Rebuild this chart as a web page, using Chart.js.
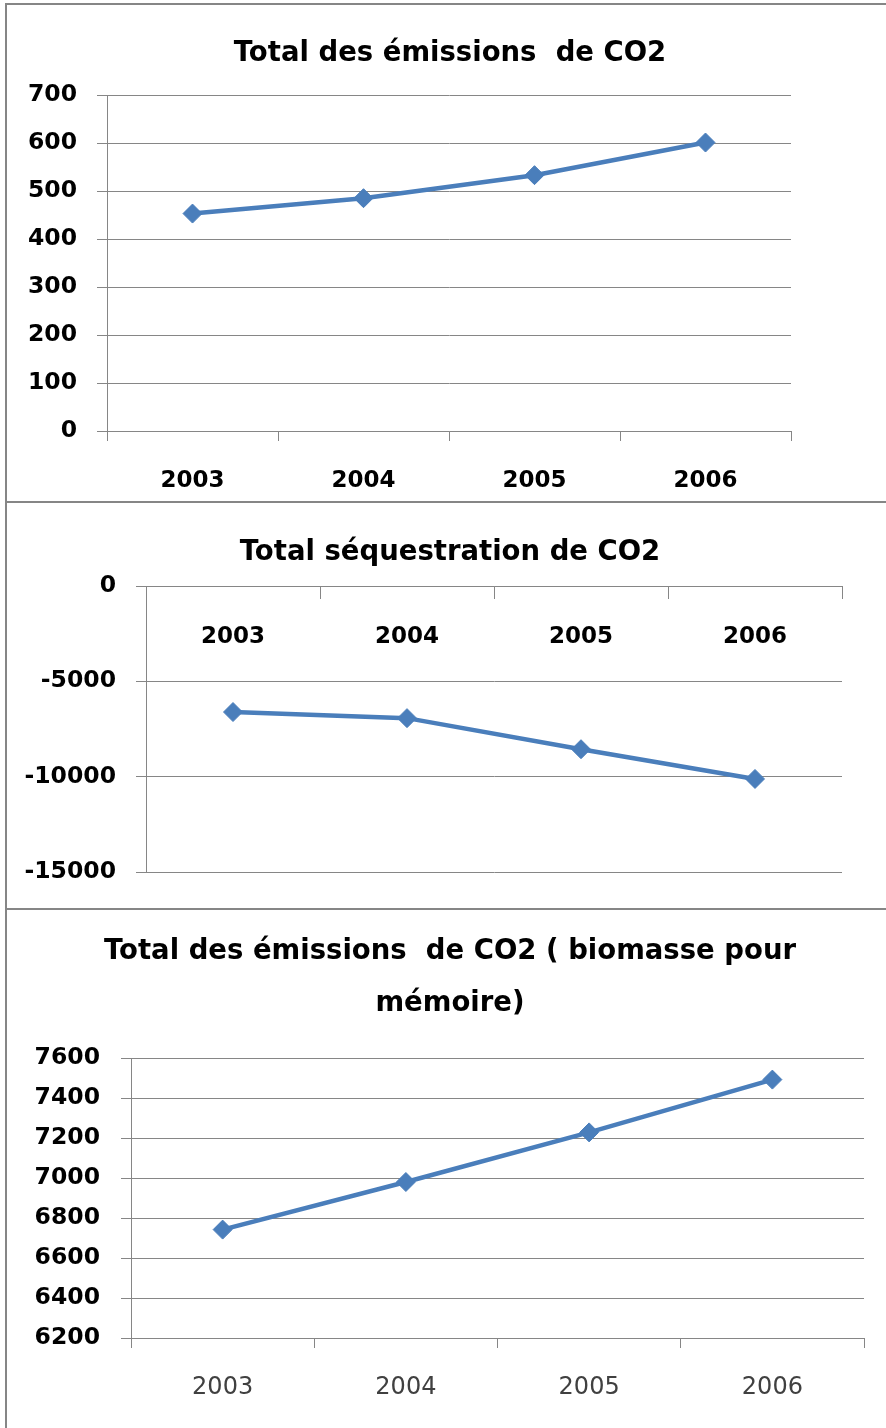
<!DOCTYPE html>
<html>
<head>
<meta charset="utf-8">
<script src="https://cdn.jsdelivr.net/npm/chart.js@4.4.1/dist/chart.umd.min.js"></script>
<style>
  html, body { margin: 0; padding: 0; background: #ffffff; }
  body { width: 886px; height: 1428px; position: relative; overflow: hidden; }
  canvas { position: absolute; left: 0; }
  .rule { position: absolute; background: #868686; z-index: 5; }
</style>
</head>
<body>
<canvas id="c1" width="886" height="502" style="top:0px"></canvas>
<canvas id="c2" width="886" height="407" style="top:502px"></canvas>
<canvas id="c3" width="886" height="519" style="top:909px"></canvas>
<div class="rule" style="left:5px; top:3px; width:881px; height:2px;"></div>
<div class="rule" style="left:5px; top:3px; width:2px; height:1425px;"></div>
<div class="rule" style="left:5px; top:501px; width:881px; height:2px;"></div>
<div class="rule" style="left:5px; top:908px; width:881px; height:2px;"></div>
<script>
// ---- data ----
const years = ['2003', '2004', '2005', '2006'];
const emissions = [453, 485, 533, 601];
const sequestration = [-6610, -6930, -8560, -10120];
const emissionsBiomass = [6742, 6980, 7228, 7492];

const title1 = ['Total des émissions  de CO2'];
const title2 = ['Total séquestration de CO2'];
const title3 = ['Total des émissions  de CO2 ( biomasse pour', 'mémoire)'];

// ---- styles ----
const FONT = "'DejaVu Sans', 'Liberation Sans', sans-serif";
const LINE_COLOR = '#4a7ebb';
const GRID_COLOR = '#868686';

const titlePlugin = {
  id: 'titleLines',
  afterDraw(chart, args, opts) {
    const ctx = chart.ctx;
    ctx.save();
    ctx.font = 'bold ' + opts.size + 'px ' + FONT;
    ctx.fillStyle = '#000';
    ctx.textAlign = 'center';
    ctx.textBaseline = 'alphabetic';
    opts.lines.forEach((t, i) => ctx.fillText(t, opts.x, opts.baselines[i]));
    ctx.restore();
  }
};

function dataset(values) {
  return {
    data: values,
    borderColor: LINE_COLOR,
    backgroundColor: LINE_COLOR,
    borderWidth: 4.5,
    pointStyle: 'rectRot',
    pointRadius: 9.5,
    pointBorderWidth: 1,
    pointBackgroundColor: LINE_COLOR,
    pointBorderColor: LINE_COLOR,
    tension: 0,
    fill: false
  };
}

function makeChart(id, cfg) {
  const yAxisWidth = cfg.yAxisWidth;
  const xScale = {
    type: 'category',
    offset: true,
    grid: { display: true, drawOnChartArea: false, drawTicks: true, tickLength: cfg.xTickLength, offset: true, color: GRID_COLOR, lineWidth: 1 },
    border: { display: true, color: GRID_COLOR, width: 1 },
    ticks: { color: cfg.xColor, font: { family: FONT, size: cfg.xSize, weight: cfg.xWeight }, padding: cfg.xPad, maxRotation: 0, autoSkip: false }
  };
  if (cfg.xPosition) {
    xScale.position = cfg.xPosition;
  } else {
    xScale.position = 'bottom';
    xScale.afterFit = (s) => { s.height = cfg.xAxisHeight; };
  }
  return new Chart(document.getElementById(id), {
    type: 'line',
    data: { labels: years, datasets: [dataset(cfg.values)] },
    plugins: [titlePlugin],
    options: {
      responsive: false,
      maintainAspectRatio: false,
      animation: false,
      devicePixelRatio: 1,
      layout: { padding: { top: cfg.padTop, right: cfg.padRight, bottom: cfg.padBottom, left: 0 } },
      plugins: {
        legend: { display: false },
        tooltip: { enabled: false },
        title: { display: false },
        titleLines: { lines: cfg.title, baselines: cfg.titleBaselines, x: 450, size: 27.5 }
      },
      scales: {
        x: xScale,
        y: {
          type: 'linear',
          position: 'left',
          min: cfg.min, max: cfg.max,
          afterFit: (s) => { s.width = yAxisWidth; },
          grid: { color: GRID_COLOR, lineWidth: 1, drawTicks: true, tickLength: 10 },
          border: { display: true, color: GRID_COLOR, width: 1 },
          ticks: {
            stepSize: cfg.step, color: '#000',
            font: { family: FONT, size: 23.5, weight: 'bold' },
            padding: cfg.yPad,
            callback: (v) => String(v)
          }
        }
      }
    }
  });
}

// Chart 1: area x 107..791, y 95..431 (canvas top 0, height 502)
makeChart('c1', {
  values: emissions, title: title1, titleBaselines: [61],
  min: 0, max: 700, step: 100,
  yAxisWidth: 107, padTop: 95, padRight: 95, padBottom: 0,
  xAxisHeight: 71, xTickLength: 10, xPad: 26,
  xColor: '#000', xSize: 23, xWeight: 'bold', yPad: 20
});

// Chart 2: area x 146..842, y 586..872 (canvas top 502, height 407)
makeChart('c2', {
  values: sequestration, title: title2, titleBaselines: [58],
  min: -15000, max: 0, step: 5000,
  yAxisWidth: 146, padTop: 84, padRight: 44, padBottom: 37,
  xPosition: { y: 0 }, xTickLength: 12, xPad: 25,
  xColor: '#000', xSize: 23, xWeight: 'bold', yPad: 20
});

// Chart 3: area x 131..864, y 1058..1338 (canvas top 909, height 519)
makeChart('c3', {
  values: emissionsBiomass, title: title3, titleBaselines: [50, 102],
  min: 6200, max: 7600, step: 200,
  yAxisWidth: 131, padTop: 149, padRight: 22, padBottom: 0,
  xAxisHeight: 90, xTickLength: 10, xPad: 25,
  xColor: '#404040', xSize: 24, xWeight: 'normal', yPad: 21
});
</script>
</body>
</html>
